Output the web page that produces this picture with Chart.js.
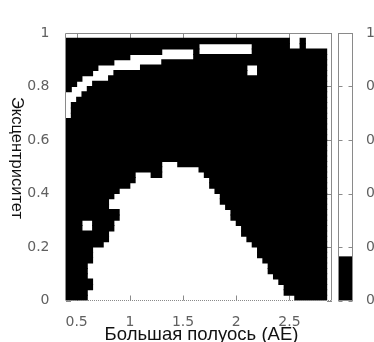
<!DOCTYPE html>
<html>
<head>
<meta charset="utf-8">
<script src="https://cdn.jsdelivr.net/npm/chart.js@4/dist/chart.umd.min.js"></script>
<style>
  html, body { margin: 0; padding: 0; background: #fff; }
</style>
</head>
<body>
<canvas id="map" width="374" height="342"></canvas>
<script>
// grid of the stability map: columns in a (AU), rows in e
const A_MIN = 0.4
const A_STEP = 0.05
const E_STEP = 0.02

// black cells per row, as [firstColumn, lastColumn]; row 0 is e = 0..0.02
const rowBlackRuns = [
  [[0, 3], [43, 48]],
  [[0, 3], [41, 48]],
  [[0, 4], [41, 48]],
  [[0, 4], [40, 48]],
  [[0, 3], [39, 48]],
  [[0, 3], [38, 48]],
  [[0, 3], [38, 48]],
  [[0, 4], [37, 48]],
  [[0, 4], [36, 48]],
  [[0, 4], [36, 48]],
  [[0, 6], [35, 48]],
  [[0, 7], [34, 48]],
  [[0, 7], [33, 48]],
  [[0, 2], [5, 8], [33, 48]],
  [[0, 2], [5, 8], [32, 48]],
  [[0, 9], [31, 48]],
  [[0, 9], [31, 48]],
  [[0, 7], [30, 48]],
  [[0, 7], [29, 48]],
  [[0, 8], [29, 48]],
  [[0, 9], [28, 48]],
  [[0, 11], [27, 48]],
  [[0, 12], [27, 48]],
  [[0, 12], [16, 17], [26, 48]],
  [[0, 17], [25, 48]],
  [[0, 17], [21, 48]],
  [[0, 48]],
  [[0, 48]],
  [[0, 48]],
  [[0, 48]],
  [[0, 48]],
  [[0, 48]],
  [[0, 48]],
  [[0, 48]],
  [[1, 48]],
  [[1, 48]],
  [[1, 48]],
  [[2, 48]],
  [[3, 48]],
  [[0, 0], [4, 48]],
  [[0, 1], [5, 48]],
  [[0, 2], [8, 48]],
  [[0, 4], [9, 33], [36, 48]],
  [[0, 5], [14, 33], [36, 48]],
  [[0, 8], [18, 48]],
  [[0, 11], [24, 48]],
  [[0, 17], [24, 24], [35, 48]],
  [[0, 24], [35, 41], [44, 44]],
  [[0, 41], [44, 44]],
  []
]

const xTicks = [0.5, 1, 1.5, 2, 2.5]
const yTicks = [0, 0.2, 0.4, 0.6, 0.8, 1]
const cbTicks = [0, 0.2, 0.4, 0.6, 0.8, 1]
const cbBlackTo = 0.165
const xTitle = "Большая полуось (АЕ)"
const yTitle = "Эксцентриситет"

const FONT = '"DejaVu Sans", sans-serif'
const TITLE_FONT = '"Liberation Sans", Arial, sans-serif'
const TICK_COLOR = "#606060"
const LINE_COLOR = "#8a8a8a"

const cells = []
rowBlackRuns.forEach((runs, row) => {
  runs.forEach(([c0, c1]) => {
    cells.push({
      y: (row + 0.5) * E_STEP,
      x: [A_MIN + c0 * A_STEP, A_MIN + (c1 + 1) * A_STEP]
    })
  })
})

Chart.defaults.font.family = FONT

// ticks sit behind the map, so they only show through the empty (white) cells
const frameTicks = {
  id: "frameTicks",
  beforeDatasetsDraw(chart) {
    const { ctx, chartArea: a, scales: { x, y } } = chart
    ctx.save()
    ctx.strokeStyle = LINE_COLOR
    ctx.lineWidth = 1
    ctx.beginPath()
    xTicks.forEach((v) => {
      const px = Math.round(x.getPixelForValue(v)) + 0.5
      ctx.moveTo(px, a.top); ctx.lineTo(px, a.top + 5)
      ctx.moveTo(px, a.bottom); ctx.lineTo(px, a.bottom - 5)
    })
    yTicks.forEach((v) => {
      const py = Math.round(y.getPixelForValue(v)) + 0.5
      ctx.moveTo(a.left, py); ctx.lineTo(a.left + 5, py)
      ctx.moveTo(a.right, py); ctx.lineTo(a.right - 5, py)
    })
    ctx.stroke()
    ctx.restore()
  },
  afterDatasetsDraw(chart) {
    const { ctx, chartArea: a } = chart
    ctx.save()
    ctx.strokeStyle = LINE_COLOR
    ctx.lineWidth = 1
    ctx.beginPath()
    ctx.moveTo(a.left - 0.5, a.bottom); ctx.lineTo(a.left - 0.5, a.top + 0.5)
    ctx.lineTo(a.right - 0.5, a.top + 0.5); ctx.lineTo(a.right - 0.5, a.bottom)
    ctx.stroke()
    ctx.setLineDash([1, 1])
    ctx.beginPath()
    ctx.moveTo(a.left, a.bottom); ctx.lineTo(a.right, a.bottom)
    ctx.stroke()
    ctx.restore()
  }
}

const colorbar = {
  id: "colorbar",
  afterDraw(chart) {
    const { ctx, chartArea: a, scales: { y } } = chart
    const left = a.right + 6.5
    const right = left + 14
    const yTop = y.getPixelForValue(1)
    const yBot = y.getPixelForValue(0)
    const ySplit = y.getPixelForValue(cbBlackTo)
    ctx.save()
    ctx.fillStyle = "#000"
    ctx.fillRect(left, ySplit, right - left, yBot - ySplit)
    ctx.strokeStyle = LINE_COLOR
    ctx.lineWidth = 1
    ctx.strokeRect(left, yTop + 0.5, right - left, yBot - yTop - 0.5)
    ctx.beginPath()
    cbTicks.forEach((v) => {
      const py = Math.round(y.getPixelForValue(v)) + 0.5
      ctx.moveTo(left, py); ctx.lineTo(left + 4, py)
      ctx.moveTo(right, py); ctx.lineTo(right - 4, py)
    })
    ctx.stroke()
    ctx.fillStyle = TICK_COLOR
    ctx.font = "14px " + FONT
    ctx.textAlign = "left"
    ctx.textBaseline = "middle"
    cbTicks.forEach((v) => {
      ctx.fillText(String(v), right + 13.5, y.getPixelForValue(v))
    })
    ctx.restore()
  }
}

const axisTitles = {
  id: "axisTitles",
  afterDraw(chart) {
    const { ctx } = chart
    ctx.save()
    ctx.fillStyle = "#111"
    ctx.textAlign = "center"
    ctx.textBaseline = "alphabetic"
    ctx.font = "18.5px " + TITLE_FONT
    ctx.fillText(xTitle, 201.5, 340)
    ctx.font = "16.5px " + TITLE_FONT
    ctx.translate(11.5, 158)
    ctx.rotate(Math.PI / 2)
    ctx.fillText(yTitle, 0, 0)
    ctx.restore()
  }
}

new Chart(document.getElementById("map"), {
  type: "bar",
  data: {
    datasets: [{
      data: cells,
      backgroundColor: "#000",
      borderWidth: 0,
      barPercentage: 1,
      categoryPercentage: 1,
      inflateAmount: 0.5
    }]
  },
  options: {
    indexAxis: "y",
    responsive: false,
    animation: false,
    layout: { padding: { top: 33, right: 42, left: 0, bottom: 0 } },
    plugins: { legend: { display: false }, tooltip: { enabled: false } },
    scales: {
      x: {
        type: "linear",
        min: A_MIN,
        max: 2.9,
        afterBuildTicks: (s) => { s.ticks = xTicks.map((v) => ({ value: v })) },
        afterFit: (s) => { s.height = 41.5 },
        grid: { display: false, drawTicks: false },
        border: { display: false },
        ticks: {
          padding: 13,
          color: TICK_COLOR,
          font: { size: 14 },
          maxRotation: 0,
          autoSkip: false,
          callback: (v) => String(v)
        }
      },
      y: {
        type: "linear",
        min: 0,
        max: 1,
        offset: false,
        afterBuildTicks: (s) => { s.ticks = yTicks.map((v) => ({ value: v })) },
        afterFit: (s) => { s.width = 66 },
        grid: { display: false, drawTicks: false, offset: false },
        border: { display: false },
        ticks: {
          padding: 16.5,
          color: TICK_COLOR,
          font: { size: 14 },
          autoSkip: false,
          callback: (v) => String(v)
        }
      }
    }
  },
  plugins: [frameTicks, colorbar, axisTitles]
})
</script>
</body>
</html>
